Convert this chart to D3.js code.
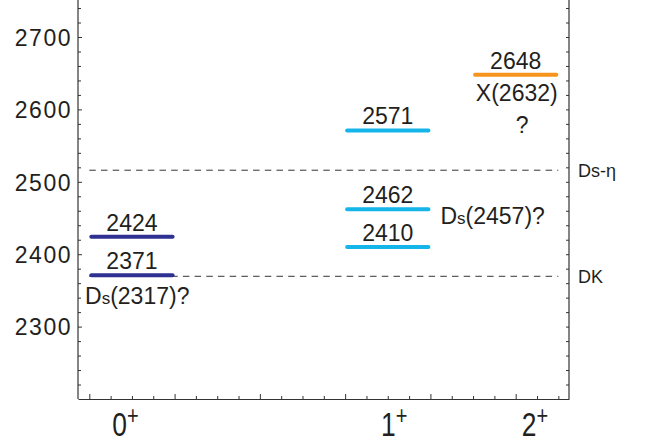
<html>
<head>
    <script src="https://d3js.org/d3.v7.min.js"></script>
    <style>
        body { margin: 0; background: #fff; }
        text { font-family: "Liberation Sans", Arial, sans-serif; fill: #231f20; }
    </style>
</head>
<body>
    <svg id="svg" width="654" height="445"></svg>
    <script>
        // levels (MeV) by J^P
        const levelCat = ["0+", "0+", "1+", "1+", "1+", "2+"];
        const levelMass = [2371, 2424, 2410, 2462, 2571, 2648];
        const categories = ["0+", "1+", "2+"];
        const catStart = [0, 12, 18];          // bar start, in bottom tick units
        const catLabelPos = [1.7, 14.3, 20.9];
        const catColors = ["#2e3192", "#15b5ea", "#f7941d"];
        const thresholdNames = ["DK", "Ds-\u03b7"];
        const thresholdMass = [2369.5, 2516];
        const yTicks = [2300, 2400, 2500, 2600, 2700];

        const svg = d3.select("#svg");
        const pLeft = 78, pRight = 569, pTop = 0.8, pBottom = 399;

        const x = d3.scaleLinear().domain([-0.53, 22.5]).range([pLeft, pRight]);
        const y = d3.scaleLinear().domain([2200, 2750]).range([pBottom, pTop]);

        // frame
        const frame = svg.append("g").attr("stroke", "#333").attr("stroke-width", 1.2);
        frame.append("line").attr("x1", pLeft).attr("x2", pLeft).attr("y1", 0).attr("y2", pBottom);
        frame.append("line").attr("x1", pRight).attr("x2", pRight).attr("y1", 0).attr("y2", pBottom);

        // left axis, ticks inward
        const minor = d3.range(2220, 2750, 20).filter(v => v % 100 !== 0);
        svg.append("g").attr("transform", `translate(${pLeft},0)`)
            .call(d3.axisLeft(y).tickValues(minor).tickSize(-3).tickFormat(""))
            .call(g => g.select(".domain").remove());
        const yAx = svg.append("g").attr("transform", `translate(${pLeft},0)`)
            .call(d3.axisLeft(y).tickValues(yTicks).tickSize(-4).tickPadding(6).tickFormat(d3.format("d")))
            .call(g => g.select(".domain").remove());
        yAx.selectAll("text").style("font-size", "23px").style("font-family", "Liberation Sans, Arial")
            .attr("fill", "#2a2a2a").attr("dy", "0.36em").style("letter-spacing", "1.5px");
        svg.selectAll(".tick line").attr("stroke", "#333");

        // right axis, ticks inward
        svg.append("g").attr("transform", `translate(${pRight},0)`)
            .call(d3.axisRight(y).tickValues(d3.range(2220, 2750, 20)).tickSize(-3).tickFormat(""))
            .call(g => g.select(".domain").remove())
            .selectAll("line").attr("stroke", "#333");

        // bottom axis
        const bAx = svg.append("g").attr("transform", `translate(0,${pBottom})`)
            .call(d3.axisBottom(x).tickValues(d3.range(0, 23)).tickSizeInner(-3).tickSizeOuter(0).tickFormat(""));
        bAx.select(".domain").attr("stroke", "#333").attr("stroke-width", 1.2);
        bAx.selectAll(".tick line").attr("stroke", "#333").attr("y2", d => d % 4 === 0 ? -5 : -3);

        // category labels
        categories.forEach((c, i) => {
            const t = svg.append("text")
                .attr("transform", `translate(${x(catLabelPos[i])},${pBottom + 37}) scale(0.8,1)`)
                .attr("text-anchor", "middle")
                .style("font-size", "33px");
            t.append("tspan").text(c[0]);
            t.append("tspan").attr("dy", "-0.5em").style("font-size", "25px").text(c[1]);
        });

        // thresholds
        const thr = svg.append("g");
        thr.selectAll("line").data(thresholdMass).join("line")
            .attr("x1", x(0)).attr("x2", x(22))
            .attr("y1", d => y(d)).attr("y2", d => y(d))
            .attr("stroke", "#333").attr("stroke-width", 1)
            .attr("stroke-dasharray", "6.5,5.2");
        thr.selectAll("text").data(thresholdMass).join("text")
            .attr("x", pRight + 9).attr("y", d => y(d) + 7)
            .style("font-size", "18px")
            .text((d, i) => thresholdNames[i]);

        // levels
        const lv = levelMass.map((m, i) => ({ m: m, c: categories.indexOf(levelCat[i]) }));
        svg.append("g").selectAll("line").data(lv).join("line")
            .attr("x1", d => x(catStart[d.c]) + 2).attr("x2", d => x(catStart[d.c] + 4) - 2)
            .attr("y1", d => y(d.m)).attr("y2", d => y(d.m))
            .attr("stroke", d => catColors[d.c]).attr("stroke-width", 4)
            .attr("stroke-linecap", "round");
        svg.append("g").selectAll("text").data(lv).join("text")
            .attr("x", d => x(catStart[d.c] + 2)).attr("y", d => y(d.m) - 6)
            .attr("text-anchor", "middle")
            .style("font-size", "23px")
            .text(d => d.m);

        // assignments
        function dsLabel(xp, yp, num) {
            const t = svg.append("text").attr("x", xp).attr("y", yp).style("font-size", "23px");
            t.append("tspan").text("D");
            t.append("tspan").style("font-size", "17px").text("s");
            t.append("tspan").text("(" + num + ")?");
        }
        dsLabel(x(-0.2), y(2331), 2317);
        dsLabel(x(16.47), y(2442), 2457);
        svg.append("text").attr("x", x(20.05)).attr("y", y(2611))
            .attr("text-anchor", "middle").style("font-size", "23px").text("X(2632)");
        svg.append("text").attr("x", x(20.3)).attr("y", y(2567))
            .attr("text-anchor", "middle").style("font-size", "23px").text("?");
    </script>
</body>
</html>
